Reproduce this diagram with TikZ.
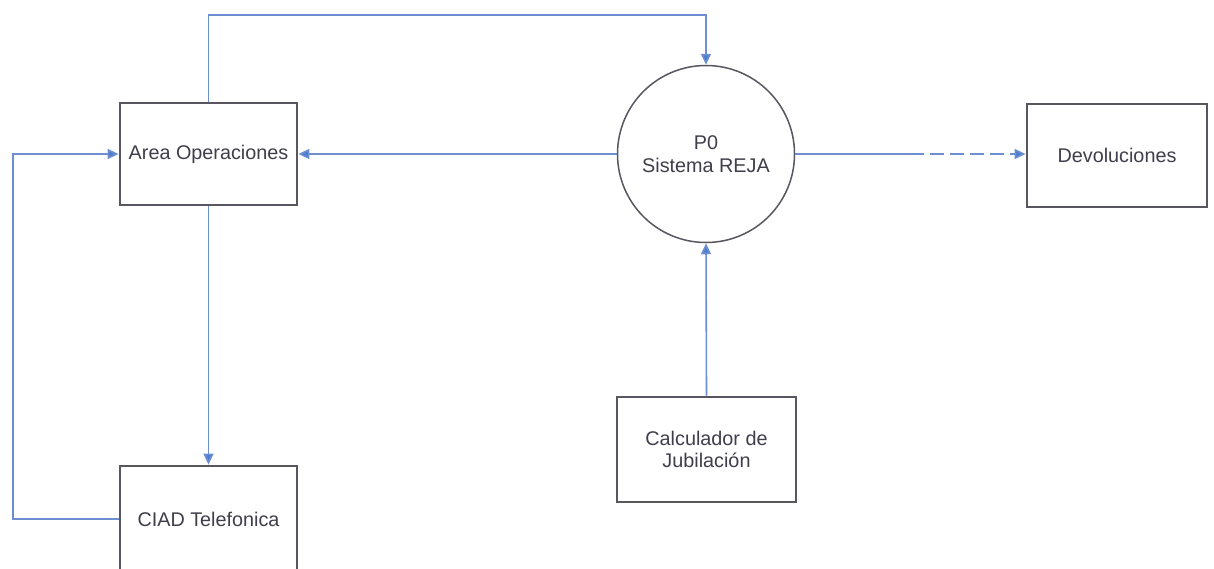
\documentclass[tikz,border=0pt]{standalone}
\usepackage{fontspec}
\setmainfont{Liberation Sans}
\usetikzlibrary{arrows.meta,calc}
\definecolor{inkgray}{HTML}{403E4A}
\definecolor{boxline}{HTML}{5A5660}
\definecolor{flowblue}{HTML}{6D8ED0}
\definecolor{tipblue}{HTML}{4C80CF}
\begin{document}
\begin{tikzpicture}[x=1pt,y=-1pt,
  every node/.style={font=\fontsize{19.8}{22.5}\selectfont, text=inkgray, align=center},
  entity/.style={draw=boxline, line width=2.8pt, fill=white, inner sep=0pt},
  process/.style={circle, draw=boxline, line width=1.5pt, fill=white, minimum size=177pt, inner sep=0pt},
  flow/.style={draw=flowblue, line width=1.6pt, -{Triangle[length=11pt,width=10pt,fill=tipblue]}},
  link/.style={draw=flowblue, line width=1.6pt}]
\useasboundingbox (0,0) rectangle (1214,568);

% entities and the central process
\node[entity, minimum width=177pt, minimum height=102pt] (area) at (208.5,154) {Area Operaciones};
\node[entity, minimum width=177pt, minimum height=106pt] (ciad) at (208.5,519) {CIAD Telefonica};
\node[process] (p0) at (706,154) {P0\\Sistema REJA};
\node[entity, minimum width=180pt, minimum height=103pt] (dev) at (1117,155.5) {Devoluciones};
\node[entity, minimum width=179pt, minimum height=105pt] (calc) at (706.5,449.5) {Calculador de\\Jubilación};

% routing helpers
\coordinate (topy) at (0,15);
\coordinate (leftx) at (13,0);

% data flows
\draw[flow] (area.north) -- (area.north |- topy) -| (p0.north);
\draw[flow] (p0.west) -- (area.east |- p0.west);
\draw[link] (p0.east) -- ($(p0.east)!0.5!(dev.west |- p0.east)$) coordinate (mid);
\draw[flow, dash pattern=on 14pt off 6pt] (mid) -- (dev.west |- p0.east);
\draw[flow] (calc.north) -- (p0.south);
\draw[flow] (area.south) -- (ciad.north);
\draw[flow] (ciad.west) -- (ciad.west -| leftx) |- (area.west);
\end{tikzpicture}
\end{document}
